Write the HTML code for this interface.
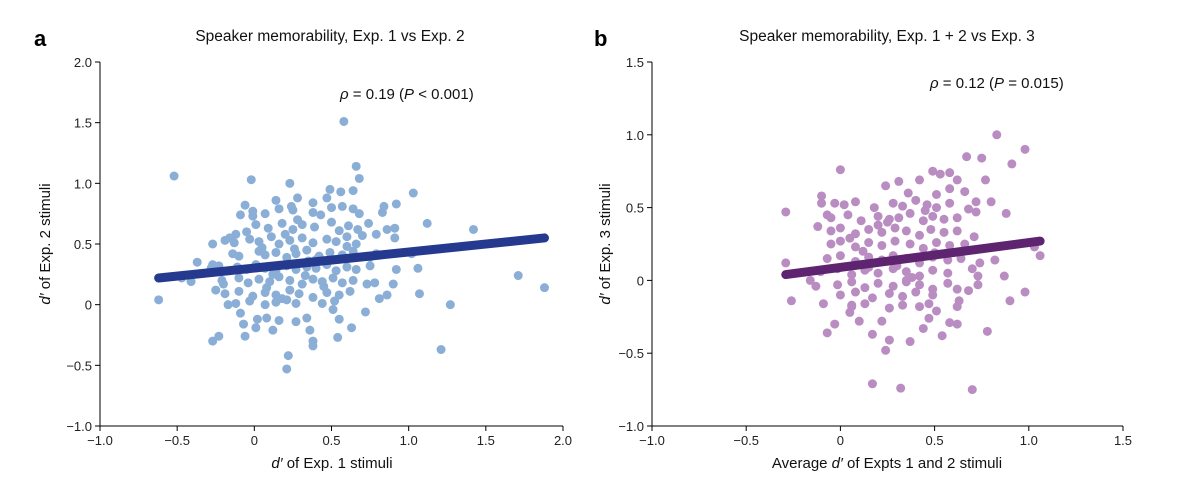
<!DOCTYPE html>
<html><head><meta charset="utf-8"><style>
body{margin:0;background:#fff;}
svg{display:block;font-family:"Liberation Sans",sans-serif;}
</style></head><body>
<svg id="chart" width="1199" height="482"></svg>
<script>
// Panel a data
const aX=[0.58,-0.52,0.66,0.68,-0.02,0.23,1.03,0.49,0.56,0.64,1.12,1.42,1.71,1.88,1.27,1.21,-0.62,-0.27,-0.23,-0.06,0.22,0.21,0.38,0.38,0.54,0.63,0.36,0.12,0.01,-0.07,0.72,0.81,0.86,1.07,1.06,0.92,0.90,0.78,0.73,1.02,0.92,0.84,0.83,0.91,0.86,0.91,0.79,0.55,0.51,-0.37,-0.41,-0.47,-0.27,-0.27,-0.25,-0.20,-0.09,-0.06,0.14,0.28,0.38,0.47,0.50,0.57,0.64,0.68,0.24,0.16,-0.01,-0.09,-0.17,0.02,0.08,0.16,0.27,0.34,0.44,
0.01,0.09,0.18,0.25,0.31,0.39,0.50,0.55,0.61,0.67,0.74,
-0.19,-0.16,-0.13,-0.03,0.03,0.11,0.16,0.23,0.31,0.38,0.47,0.53,0.60,0.66,
-0.14,-0.10,0.03,0.07,0.14,0.21,0.27,0.34,0.42,0.49,0.57,0.64,0.75,0.79,
-0.28,-0.23,-0.16,-0.11,-0.05,0.01,0.07,0.14,0.21,0.27,0.34,0.40,0.47,0.53,0.60,0.66,0.75,
-0.21,-0.10,-0.04,0.03,0.10,0.16,0.23,0.31,0.38,0.44,0.51,0.57,0.64,
-0.19,-0.10,-0.01,0.07,0.14,0.23,0.29,0.38,0.47,0.55,0.62,
-0.12,-0.03,0.07,0.14,0.21,0.27,
-0.01,0.07,0.25,0.38,0.43,
0.05,0.20,0.35,0.12,0.45,0.28,-0.05,0.60,0.18,0.40,0.33,0.08,0.52,0.26,-0.12,0.70];
const aY=[1.51,1.06,1.14,1.04,1.03,1.00,0.92,0.95,0.93,0.94,0.67,0.62,0.24,0.14,0.00,-0.37,0.04,-0.30,-0.26,-0.26,-0.42,-0.53,-0.34,-0.30,-0.27,-0.19,-0.21,-0.21,-0.19,-0.16,-0.06,0.05,0.08,0.09,0.30,0.29,0.17,0.18,0.17,0.42,0.83,0.81,0.76,0.63,0.62,0.55,0.58,-0.12,-0.04,0.35,0.19,0.22,0.50,0.33,0.12,0.17,0.74,0.82,0.86,0.88,0.84,0.88,0.80,0.81,0.79,0.75,0.81,0.79,0.73,-0.07,0.00,-0.12,-0.11,-0.13,-0.14,-0.11,0.01,
0.66,0.63,0.67,0.62,0.66,0.64,0.68,0.61,0.65,0.62,0.67,
0.53,0.55,0.51,0.54,0.52,0.56,0.50,0.53,0.55,0.51,0.54,0.52,0.56,0.50,
0.42,0.40,0.44,0.41,0.43,0.39,0.42,0.45,0.40,0.43,0.41,0.44,0.39,0.42,
0.30,0.32,0.28,0.31,0.29,0.33,0.30,0.28,0.32,0.29,0.31,0.30,0.33,0.28,0.31,0.29,0.32,
0.20,0.22,0.18,0.21,0.19,0.23,0.20,0.17,0.21,0.19,0.22,0.18,0.20,
0.09,0.11,0.07,0.10,0.08,0.12,0.09,0.06,0.10,0.08,0.11,
0.01,0.03,0.00,0.02,0.04,0.01,
0.77,0.75,0.78,0.76,0.74,
0.47,0.58,0.36,0.25,0.15,0.70,0.60,0.48,0.05,0.37,0.24,0.14,0.03,0.46,0.58,0.57];
const aLineX=[-0.62,1.88], aLineY=[0.22,0.55];
const aXTicks=[-1.0,-0.5,0,0.5,1.0,1.5,2.0], aXTickLabels=["\u22121.0","\u22120.5","0","0.5","1.0","1.5","2.0"];
const aYTicks=[-1.0,-0.5,0,0.5,1.0,1.5,2.0], aYTickLabels=["\u22121.0","\u22120.5","0","0.5","1.0","1.5","2.0"];
// Panel b data
const bX=[0.83,0.98,0.67,0.75,0.91,0.00,-0.29,0.88,1.06,1.03,-0.29,-0.26,0.98,0.90,0.78,0.87,0.82,0.17,0.32,0.70,0.24,0.37,0.54,-0.07,-0.03,0.17,0.26,0.10,0.62,0.58,0.44,-0.09,-0.16,-0.13,-0.10,-0.10,0.24,0.31,0.42,0.49,0.53,0.58,0.62,0.77,0.66,0.58,0.72,0.80,0.68,0.72,0.36,0.51,-0.03,-0.07,-0.12,0.71,0.74,0.70,0.73,0.73,0.68,0.62,0.63,0.62,0.51,0.47,0.47,0.06,0.05,0.22,
0.02,0.08,0.18,0.28,0.33,0.40,0.46,0.51,0.58,
-0.05,0.04,0.11,0.20,0.26,0.31,0.37,0.44,0.49,0.55,0.62,
-0.05,0.00,0.08,0.15,0.22,0.29,0.35,0.42,0.48,0.55,0.62,
-0.05,0.00,0.08,0.15,0.22,0.29,0.37,0.44,0.51,0.58,0.66,
-0.07,0.00,0.08,0.15,0.22,0.28,0.35,0.42,0.49,0.57,0.64,
-0.105,-0.015,0.06,0.13,0.20,0.28,0.35,0.42,0.49,0.57,
-0.015,0.06,0.13,0.20,0.28,0.35,0.42,0.49,0.57,
0.00,0.08,0.17,0.26,0.33,0.40,0.49,
0.06,0.13,0.26,0.33,0.42,
0.12,0.30,0.45,0.20,0.38,0.05,0.25,0.50,0.15,0.35];
const bY=[1.00,0.90,0.85,0.84,0.80,0.76,0.47,0.46,0.17,0.23,0.12,-0.14,-0.08,-0.14,-0.35,0.03,0.14,-0.71,-0.74,-0.75,-0.48,-0.42,-0.38,-0.36,-0.30,-0.37,-0.41,-0.28,-0.30,-0.29,-0.33,-0.16,0.00,-0.04,0.53,0.58,0.65,0.68,0.69,0.75,0.73,0.74,0.69,0.69,0.61,0.63,0.54,0.54,0.49,0.47,0.60,0.59,0.53,0.45,0.37,0.30,0.12,0.08,0.03,-0.03,-0.07,-0.06,-0.14,-0.18,-0.21,-0.16,-0.26,-0.17,-0.22,-0.28,
0.52,0.54,0.50,0.53,0.51,0.55,0.52,0.50,0.53,
0.43,0.45,0.41,0.44,0.42,0.43,0.46,0.41,0.44,0.42,0.43,
0.34,0.36,0.32,0.35,0.33,0.36,0.34,0.31,0.35,0.33,0.34,
0.25,0.27,0.23,0.26,0.24,0.27,0.25,0.22,0.26,0.24,0.25,
0.15,0.17,0.13,0.16,0.14,0.17,0.15,0.12,0.16,0.14,0.15,
0.06,0.08,0.04,0.07,0.05,0.08,0.06,0.03,0.07,0.05,
-0.03,-0.01,-0.05,-0.02,-0.04,-0.01,-0.03,-0.06,-0.02,
-0.10,-0.08,-0.12,-0.09,-0.11,-0.08,-0.10,
-0.18,-0.16,-0.19,-0.17,-0.18,
0.20,0.10,0.48,0.38,0.02,0.29,0.40,0.19,0.09,0.00];
const bLineX=[-0.29,1.06], bLineY=[0.04,0.27];
const bXTicks=[-1.0,-0.5,0,0.5,1.0,1.5], bXTickLabels=["\u22121.0","\u22120.5","0","0.5","1.0","1.5"];
const bYTicks=[-1.0,-0.5,0,0.5,1.0,1.5], bYTickLabels=["\u22121.0","\u22120.5","0","0.5","1.0","1.5"];

const NS="http://www.w3.org/2000/svg";
const svg=document.getElementById('chart');
function mk(tag,attrs,parent,text){const e=document.createElementNS(NS,tag);for(const k in attrs)e.setAttribute(k,attrs[k]);if(text!==undefined)e.textContent=text;parent.appendChild(e);return e;}

function panel(o){
  const g=mk('g',{},svg);
  
  
  const sx=v=>o.x0+(v-o.xmin)/(o.xmax-o.xmin)*(o.x1-o.x0);
  const sy=v=>o.y0-(v-o.ymin)/(o.ymax-o.ymin)*(o.y0-o.y1);
  const ax=mk('g',{stroke:'#000','stroke-width':1},g);
  
  
  mk('line',{x1:o.x0,y1:o.y0,x2:o.x1,y2:o.y0},ax);
  mk('line',{x1:o.x0,y1:o.y0,x2:o.x0,y2:o.y1},ax);
  o.xt.forEach((v,i)=>{
    mk('line',{x1:sx(v),y1:o.y0,x2:sx(v),y2:o.y0+5},ax);
    const t=mk('text',{x:sx(v),y:o.y0+19,'text-anchor':'middle','font-size':13,fill:'#222'},g,o.xl[i]);
    
    
  });
  o.yt.forEach((v,i)=>{
    mk('line',{x1:o.x0-5,y1:sy(v),x2:o.x0,y2:sy(v)},ax);
    const t=mk('text',{x:o.x0-8,y:sy(v)+5,'text-anchor':'end','font-size':13,fill:'#222'},g,o.yl[i]);
    
    
  });
  const pts=mk('g',{fill:o.pc},g);
  
  
  o.px.forEach((v,i)=>{
    const c=mk('circle',{cx:sx(v),cy:sy(o.py[i]),r:4.5},pts);
    
    
  });
  const ln=mk('line',{x1:sx(o.lx[0]),y1:sy(o.ly[0]),x2:sx(o.lx[1]),y2:sy(o.ly[1]),stroke:o.lc,'stroke-width':9,'stroke-linecap':'round'},g);
  
  
}
panel({name:'panel-a',x0:100,x1:563,y0:426,y1:62,xmin:-1,xmax:2,ymin:-1,ymax:2,xt:aXTicks,xl:aXTickLabels,yt:aYTicks,yl:aYTickLabels,px:aX,py:aY,lx:aLineX,ly:aLineY,pc:'#8aaed6',lc:'#253a8e'});
panel({name:'panel-b',x0:652,x1:1123,y0:426,y1:62,xmin:-1,xmax:1.5,ymin:-1,ymax:1.5,xt:bXTicks,xl:bXTickLabels,yt:bYTicks,yl:bYTickLabels,px:bX,py:bY,lx:bLineX,ly:bLineY,pc:'#b98dc2',lc:'#5e2470'});
</script>
<svg width="1199" height="482" style="position:absolute;left:0;top:0;font-family:'Liberation Sans',sans-serif">
<text x="34" y="46" font-size="22" font-weight="bold">a</text>
<text x="330" y="41" font-size="15.5" text-anchor="middle" fill="#111">Speaker memorability, Exp. 1 vs Exp. 2</text>
<text x="340" y="99" font-size="15" fill="#111"><tspan font-style="italic">ρ</tspan> = 0.19 (<tspan font-style="italic">P</tspan> &lt; 0.001)</text>
<text x="332" y="468" font-size="15" text-anchor="middle" fill="#111"><tspan font-style="italic">d′</tspan> of Exp. 1 stimuli</text>
<text transform="translate(50,244) rotate(-90)" font-size="15" text-anchor="middle" fill="#111"><tspan font-style="italic">d′</tspan> of Exp. 2 stimuli</text>
<text x="594" y="46" font-size="22" font-weight="bold">b</text>
<text x="887" y="41" font-size="15.5" text-anchor="middle" fill="#111">Speaker memorability, Exp. 1 + 2 vs Exp. 3</text>
<text x="930" y="88" font-size="15" fill="#111"><tspan font-style="italic">ρ</tspan> = 0.12 (<tspan font-style="italic">P</tspan> = 0.015)</text>
<text x="887" y="468" font-size="15" text-anchor="middle" fill="#111">Average <tspan font-style="italic">d′</tspan> of Expts 1 and 2 stimuli</text>
<text transform="translate(610,244) rotate(-90)" font-size="15" text-anchor="middle" fill="#111"><tspan font-style="italic">d′</tspan> of Exp. 3 stimuli</text>
</svg>
</body></html>
